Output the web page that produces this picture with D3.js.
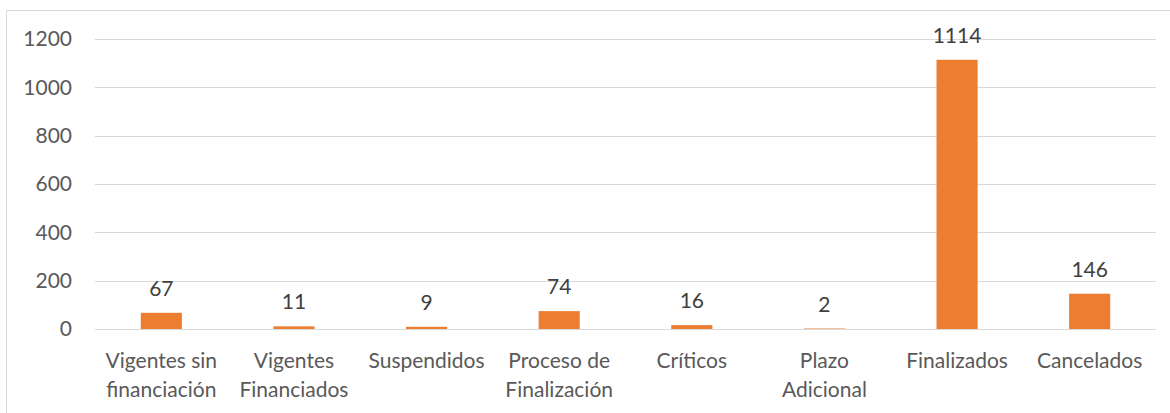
<!DOCTYPE html>
<html>
<head>
<meta charset="utf-8">
<script src="https://cdn.jsdelivr.net/npm/d3@7"></script>
<style>
  body { margin: 0; background: #fff; }
</style>
</head>
<body>
<div id="chart"></div>
<script>
// categories (two label lines each) and values
var categories = ["Vigentes sin financiación", "Vigentes Financiados", "Suspendidos", "Proceso de Finalización",
                  "Críticos", "Plazo Adicional", "Finalizados", "Cancelados"];
var labelLines = [["Vigentes sin", "financiación"], ["Vigentes", "Financiados"], ["Suspendidos"], ["Proceso de", "Finalización"],
                  ["Críticos"], ["Plazo", "Adicional"], ["Finalizados"], ["Cancelados"]];
var values = [67, 11, 9, 74, 16, 2, 1114, 146];
var yTicks = [0, 200, 400, 600, 800, 1000, 1200];

var W = 1170, H = 413;
var margin = {top: 39, right: 14, bottom: 84, left: 95},
    width = W - margin.left - margin.right,
    height = H - margin.top - margin.bottom;

var font = "Lato, 'Open Sans', sans-serif";
var fontSize = "21px";

var root = d3.select("#chart")
  .append("svg")
    .attr("width", W)
    .attr("height", H);

// chart border (only top and left visible in the frame)
root.append("rect")
    .attr("x", 6.5)
    .attr("y", 10.5)
    .attr("width", W + 10)
    .attr("height", H + 10)
    .attr("fill", "none")
    .attr("stroke", "#d9d9d9");

var svg = root.append("g")
    .attr("transform", "translate(" + margin.left + "," + margin.top + ")");

var x = d3.scaleBand()
    .domain(categories)
    .range([0, width])
    .paddingInner(0.69)
    .paddingOuter(0.345);

var y = d3.scaleLinear()
    .domain([0, 1200])
    .range([height, 0]);

// gridlines
svg.selectAll("gridLines")
    .data(yTicks)
    .enter()
    .append("line")
      .attr("x1", 0)
      .attr("x2", width)
      .attr("y1", function(d){ return Math.round(y(d)) + 0.5; })
      .attr("y2", function(d){ return Math.round(y(d)) + 0.5; })
      .attr("stroke", "#d9d9d9")
      .attr("stroke-width", 1);

// y axis labels
var yAxis = svg.append("g")
    .call(d3.axisLeft(y).tickValues(yTicks).tickFormat(d3.format("d")).tickSize(0).tickPadding(23));
yAxis.select(".domain").remove();
yAxis.selectAll("text")
    .style("font-family", font)
    .style("font-size", fontSize)
    .attr("fill", "#595959");

// bars
svg.selectAll("bars")
    .data(values)
    .enter()
    .append("rect")
      .attr("x", function(d, i){ return x(categories[i]); })
      .attr("y", function(d){ return y(d); })
      .attr("width", x.bandwidth())
      .attr("height", function(d){ return y(0) - y(d); })
      .style("fill", "#ed7d31");

// value labels
svg.selectAll("valueLabels")
    .data(values)
    .enter()
    .append("text")
      .attr("x", function(d, i){ return x(categories[i]) + x.bandwidth() / 2; })
      .attr("y", function(d){ return y(d) - 17; })
      .attr("text-anchor", "middle")
      .style("font-family", font)
      .style("font-size", fontSize)
      .attr("fill", "#404040")
      .text(function(d){ return d; });

// category labels
var cat = svg.selectAll("catLabels")
    .data(categories)
    .enter()
    .append("text")
      .attr("x", function(d){ return x(d) + x.bandwidth() / 2; })
      .attr("y", height + 39)
      .attr("text-anchor", "middle")
      .style("font-family", font)
      .style("font-size", fontSize)
      .attr("fill", "#595959");
cat.selectAll("tspan")
    .data(function(d, i){ return labelLines[i]; })
    .enter()
    .append("tspan")
      .attr("x", function(){ return d3.select(this.parentNode).attr("x"); })
      .attr("dy", function(d, j){ return j === 0 ? 0 : 29; })
      .text(function(d){ return d; });
</script>
</body>
</html>
